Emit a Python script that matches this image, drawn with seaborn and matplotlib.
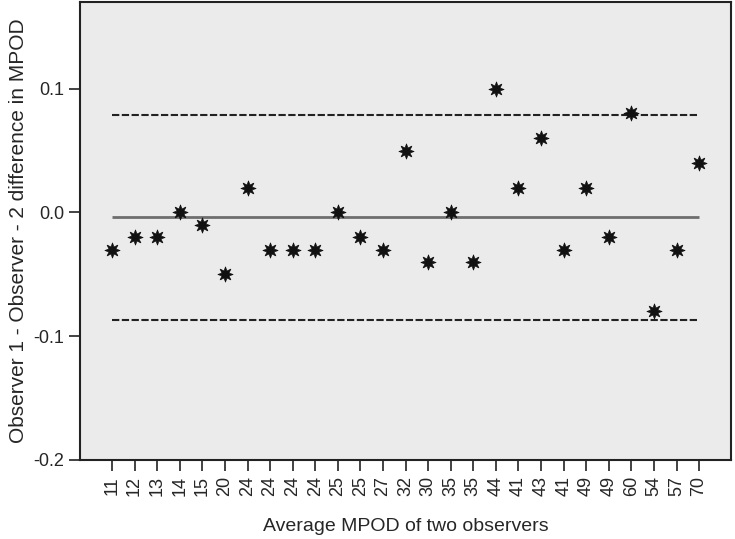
import numpy as np
import pandas as pd
import matplotlib
matplotlib.use("Agg")
import matplotlib.pyplot as plt
import seaborn as sns

# Average MPOD labels (categorical x axis, in plotted order)
avg_mpod = ["11", "12", "13", "14", "15", "20", "24", "24", "24", "24", "25", "25", "27",
            "32", "30", "35", "35", "44", "41", "43", "41", "49", "49", "60", "54", "57", "70"]
# Observer 1 - Observer 2 difference
diff = [-0.03, -0.02, -0.02, 0.00, -0.01, -0.05, 0.02, -0.03, -0.03, -0.03, 0.00, -0.02, -0.03,
        0.05, -0.04, 0.00, -0.04, 0.10, 0.02, 0.06, -0.03, 0.02, -0.02, 0.08, -0.08, -0.03, 0.04]
mean_diff = -0.004
upper_loa = 0.079
lower_loa = -0.087

df = pd.DataFrame({"pos": np.arange(len(diff)), "diff": diff})

sns.set_style("ticks")
plt.rcParams["font.family"] = ["Liberation Sans", "DejaVu Sans"]

fig = plt.figure(figsize=(7.35, 5.39), dpi=100)
ax = fig.add_axes([0.1088, 0.1466, 0.886, 0.8497])
ax.set_facecolor("#ebebeb")

n = len(diff)
ax.hlines(mean_diff, 0, n - 1, color="#6e6e6e", linewidth=2)
ax.hlines([upper_loa, lower_loa], 0, n - 1, color="#222222", linewidth=1.5,
          linestyles=(0, (3.5, 1.2)))

sns.scatterplot(data=df, x="pos", y="diff", marker=(8, 1, 0), s=120, color="#111111",
                edgecolor="#111111", linewidth=0.5, ax=ax, zorder=3)

ax.set_xlim(-1.42, n - 1 + 1.42)
ax.set_ylim(-0.2, 0.17)
ax.set_xticks(df["pos"])
ax.set_xticklabels(avg_mpod, rotation=90, fontsize=13)
ax.set_yticks([-0.2, -0.1, 0.0, 0.1])
ax.set_yticklabels(["-0.2", "-0.1", "0.0", "0.1"], fontsize=13)
ax.tick_params(direction="out", length=8, width=1.2, color="#222222")
for s in ax.spines.values():
    s.set_visible(True)
    s.set_color("#222222")
    s.set_linewidth(1.5)

ax.set_xlabel("Average MPOD of two observers", fontsize=14, labelpad=16)
ax.set_ylabel("Observer 1 - Observer - 2 difference in MPOD", fontsize=15, labelpad=4)

fig.savefig("out.png", dpi=100)
